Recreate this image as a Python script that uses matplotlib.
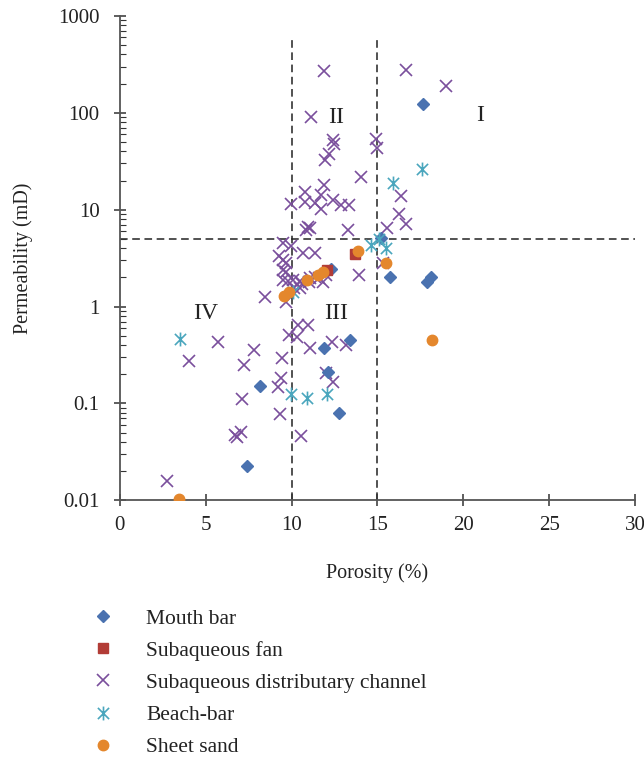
import matplotlib
matplotlib.use("Agg")
import matplotlib.pyplot as plt
from matplotlib.path import Path
from matplotlib.lines import Line2D
from matplotlib.ticker import LogLocator, FixedLocator, NullFormatter

plt.rcParams['font.family'] = ['Liberation Serif', 'DejaVu Serif']

# Porosity (%) and permeability (mD) per sedimentary microfacies
mouth_bar_x = [17.64, 15.2, 15.74, 17.9, 18.1, 12.3, 11.92, 13.43, 12.11, 12.79, 8.14, 7.4]
mouth_bar_y = [124, 5.1, 2.03, 1.8, 2.0, 2.43, 0.378, 0.457, 0.211, 0.0806, 0.152, 0.0228]

fan_x = [13.68, 12.05]
fan_y = [3.53, 2.4]

channel_x = [11.88, 11.16, 12.4, 12.5, 12.17, 11.96, 14.05, 11.92, 10.76, 10.76,
             11.34, 11.72, 11.72, 12.4, 12.89, 13.37, 9.98, 10.95, 11.05, 10.85,
             13.27, 14.9, 14.95, 16.67, 19.0, 16.38, 16.28, 16.67, 15.54,
             9.53, 9.98, 10.66, 11.34, 9.3, 9.5, 9.69, 9.5, 9.69, 9.5,
             9.8, 10.1, 10.17, 10.47, 10.62, 11.0, 11.34, 11.82, 10.5, 11.1,
             11.6, 12.0, 13.95, 15.3, 8.43, 9.69,
             9.84, 10.31, 10.37, 10.95, 11.09, 12.34, 13.18, 12.02, 12.4, 5.72,
             4.01, 7.79, 7.23, 9.44, 9.4, 9.22, 7.13, 9.34, 6.69, 7.07,
             6.8, 10.56, 2.77]
channel_y = [272, 90, 52, 48, 38, 32.5, 21.5, 17.9, 15.3, 12.1,
             11.6, 14.2, 10.1, 12.6, 11.2, 11.2, 11.5, 6.6, 6.4, 6.1,
             6.1, 54, 43, 277, 189, 13.9, 9.0, 7.1, 6.4,
             4.5, 4.2, 3.56, 3.56, 3.3, 3.04, 2.8, 2.4, 2.3, 1.89,
             1.82, 1.89, 1.55, 1.55, 1.73, 1.8, 2.03, 1.8, 1.85, 1.95,
             1.95, 2.1, 2.11, 2.85, 1.26, 1.12,
             0.507, 0.48, 0.643, 0.643, 0.378, 0.43, 0.405, 0.207, 0.167, 0.43,
             0.273, 0.355, 0.252, 0.295, 0.185, 0.148, 0.112, 0.0787, 0.047, 0.051,
             0.045, 0.046, 0.0158]

beach_x = [17.6, 15.93, 15.08, 14.63, 15.5, 3.49, 9.98, 10.89, 12.05, 10.08]
beach_y = [26.1, 18.7, 5.0, 4.3, 3.98, 0.468, 0.124, 0.114, 0.126, 1.43]

sheet_x = [13.86, 15.5, 18.16, 3.43, 9.59, 9.88, 10.9, 11.53, 11.82]
sheet_y = [3.76, 2.79, 0.45, 0.0103, 1.3, 1.43, 1.86, 2.13, 2.26]

series_labels = ["Mouth bar", "Subaqueous fan", "Subaqueous distributary channel",
                 "Beach-bar", "Sheet sand"]

porosity_cut = [10, 15]
permeability_cut = 5

zone_labels = ["I", "II", "III", "IV"]
zone_x = [21.0, 12.6, 12.6, 5.0]
zone_y = [93, 90, 0.85, 0.85]

# Excel-style star: an x with a vertical stroke through it
star = Path([(-0.5, -0.5), (0.5, 0.5), (-0.5, 0.5), (0.5, -0.5), (0, -0.62), (0, 0.62)],
            [Path.MOVETO, Path.LINETO, Path.MOVETO, Path.LINETO, Path.MOVETO, Path.LINETO])

c_mouth = '#4a72b0'
c_fan = '#b23c36'
c_chan = '#7a4f9c'
c_beach = '#4aa6bd'
c_sheet = '#e4872d'

fig = plt.figure(figsize=(6.44, 7.57), dpi=100)
ax = fig.add_axes([0.186, 0.339, 0.800, 0.640])

ax.plot(porosity_cut[0:1] * 2, [0.01, 590], ls=(0, (5, 3)), color='#222222', lw=1.1, zorder=1)
ax.plot(porosity_cut[1:2] * 2, [0.01, 590], ls=(0, (5, 3)), color='#222222', lw=1.1, zorder=1)
ax.axhline(permeability_cut, ls=(0, (5, 3)), color='#222222', lw=1.1, zorder=1)

ax.plot(mouth_bar_x, mouth_bar_y, ls='none', marker='D', ms=6, color=c_mouth, mec=c_mouth, zorder=3)
ax.plot(fan_x, fan_y, ls='none', marker='s', ms=7, color=c_fan, zorder=3)
ax.plot(channel_x, channel_y, ls='none', marker='x', ms=8.5, mew=1.2, color=c_chan, zorder=2)
ax.plot(beach_x, beach_y, ls='none', marker=star, ms=10, mew=1.2, color=c_beach, zorder=3)
ax.plot(sheet_x, sheet_y, ls='none', marker='o', ms=7.5, color=c_sheet, mec=c_sheet, zorder=4)

for t, zx, zy in zip(zone_labels, zone_x, zone_y):
    ax.text(zx, zy, t, fontsize=17, ha='center', va='center', color='#222222')

ax.set_yscale('log')
ax.set_xlim(0, 30)
ax.set_ylim(0.01, 1000)
ax.xaxis.set_major_locator(FixedLocator([0, 5, 10, 15, 20, 25, 30]))
ax.yaxis.set_major_locator(FixedLocator([0.01, 0.1, 1, 10, 100, 1000]))
ax.yaxis.set_minor_locator(LogLocator(base=10, subs=range(2, 10)))
ax.yaxis.set_minor_formatter(NullFormatter())
ax.set_yticklabels(['0.01', '0.1', '1', '10', '100', '1000'])

for s in ['top', 'right']:
    ax.spines[s].set_visible(False)
for s in ['left', 'bottom']:
    ax.spines[s].set_color('#555555')
    ax.spines[s].set_linewidth(1.3)

ax.tick_params(axis='both', which='major', direction='inout', length=9, width=1.1,
               color='#333333', labelsize=15, labelcolor='#222222')
ax.tick_params(axis='y', which='minor', direction='in', length=4, width=0.8, color='#333333')
ax.tick_params(axis='x', pad=7)
ax.tick_params(axis='y', pad=10)

ax.set_xlabel('Porosity (%)', fontsize=14.5, color='#222222', labelpad=20)
ax.set_ylabel('Permeability (mD)', fontsize=14.5, color='#222222', labelpad=18)

handles = [
    Line2D([], [], ls='none', marker='D', ms=6, color=c_mouth),
    Line2D([], [], ls='none', marker='s', ms=7, color=c_fan),
    Line2D([], [], ls='none', marker='x', ms=8, mew=1.2, color=c_chan),
    Line2D([], [], ls='none', marker=star, ms=10, mew=1.2, color=c_beach),
    Line2D([], [], ls='none', marker='o', ms=7.5, color=c_sheet),
]
fig.legend(handles, series_labels, loc='lower left', bbox_to_anchor=(0.125, -0.016),
           frameon=False, fontsize=15.5, handlelength=1.0, handletextpad=1.5,
           labelspacing=0.56, borderaxespad=0.15, labelcolor='#222222')

fig.savefig('out.png', dpi=100)
